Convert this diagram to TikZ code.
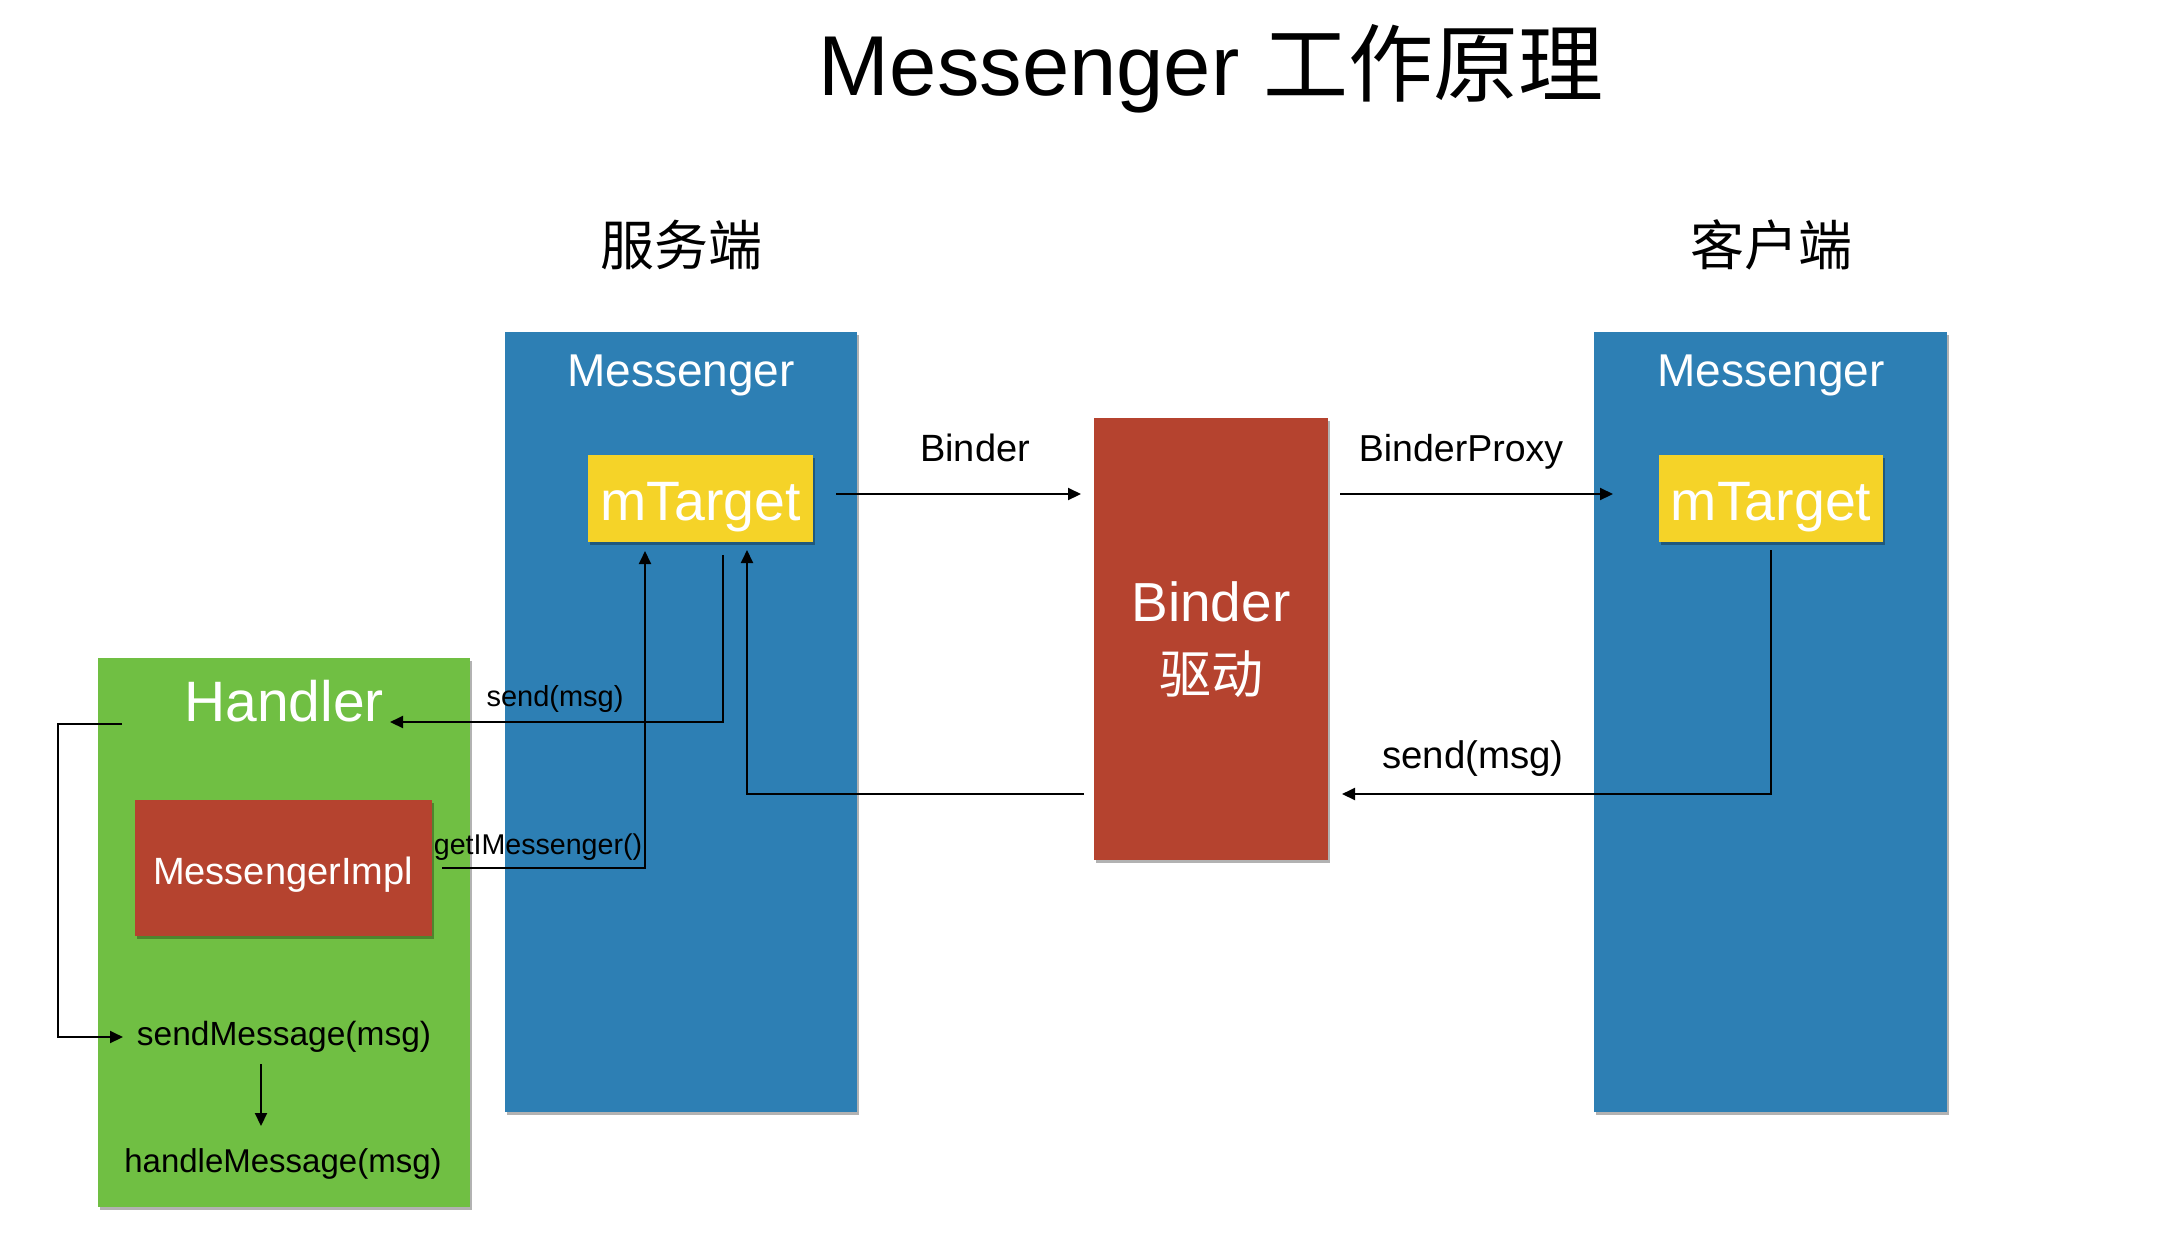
\documentclass[tikz,border=0pt]{standalone}
\usepackage{fontspec}
\setmainfont{Liberation Sans}
\newfontfamily\cjk{Noto Sans CJK SC}
\usetikzlibrary{arrows.meta,shadows,calc}
\definecolor{mblue}{HTML}{2D7FB4}
\definecolor{myellow}{HTML}{F5D328}
\definecolor{mred}{HTML}{B5432F}
\definecolor{mgreen}{HTML}{70BF43}
\newcommand\setfz[1]{\fontsize{#1}{#1}\selectfont}
\begin{document}
\begin{tikzpicture}[x=1pt,y=-1pt,
  box/.style={draw=none, inner sep=0, outer sep=0, anchor=north west,
    drop shadow={shadow xshift=1.5pt,shadow yshift=-3pt,opacity=0.3,fill=black}},
  lbl/.style={inner sep=0, outer sep=0, anchor=base},
  conn/.style={line width=2pt, -{Triangle[length=13pt,width=12pt]}},
  seg/.style={line width=2pt}]
\useasboundingbox (0,0) rectangle (2170,1254);
% boxes
\node[box, fill=mgreen, minimum width=372pt, minimum height=549pt] (green) at (98,658) {};
\node[box, fill=mred, minimum width=297pt, minimum height=136pt] (impl) at (135,800) {};
\node[box, fill=mblue, minimum width=352pt, minimum height=780pt] (sblue) at (505,332) {};
\node[box, fill=mblue, minimum width=353pt, minimum height=780pt] (cblue) at (1594,332) {};
\node[box, fill=myellow, minimum width=225pt, minimum height=87pt] (mtl) at (588,455) {};
\node[box, fill=myellow, minimum width=224pt, minimum height=87pt] (mtr) at (1659,455) {};
\node[box, fill=mred, minimum width=234pt, minimum height=442pt] (binder) at (1094,418) {};
% titles
\node[lbl] (title) at (1211,95) {\setfz{85}Messenger {\cjk 工作原理}};
\node[inner sep=0] (server) at (681,245) {\setfz{54}\cjk 服务端};
\node[inner sep=0] (client) at (1771,245) {\setfz{54}\cjk 客户端};
% box texts
\node[lbl, text=white] (smsg) at (681,386) {\setfz{46}Messenger};
\node[lbl, text=white] (cmsg) at (1771,386) {\setfz{46}Messenger};
\node[lbl, text=white] (mtlt) at (700.5,520) {\setfz{55.5}mTarget};
\node[lbl, text=white] (mtrt) at (1771,520) {\setfz{55.5}mTarget};
\node[lbl, text=white] (bt1) at (1211,621) {\setfz{55}Binder};
\node[inner sep=0, text=white] (bt2) at (1211,674) {\setfz{52}\cjk 驱动};
\node[lbl, text=white] (hd) at (284,721) {\setfz{57}Handler};
\node[lbl, text=white] (implt) at (283,884) {\setfz{38}MessengerImpl};
\node[lbl] (sm) at (284,1045) {\setfz{33.5}sendMessage(msg)};
\node[lbl] (hm) at (283,1172) {\setfz{33}handleMessage(msg)};
% labels
\node[lbl] (lb1) at (975,461) {\setfz{38}Binder};
\node[lbl] (lb2) at (1461,461) {\setfz{37.5}BinderProxy};
\node[lbl] (lb3) at (1473,768) {\setfz{38.4}send(msg)};
\node[lbl] (lb4) at (555,706) {\setfz{29}send(msg)};
\node[lbl] (lb5) at (538,854) {\setfz{28.6}getIMessenger()};
% connector coordinates
\coordinate (a1s) at (836,494);
\coordinate (a1e) at (1081,494);
\coordinate (a2s) at (1340,494);
\coordinate (a2e) at (1613,494);
\coordinate (a3s) at (1771,550);
\coordinate (a3e) at (1342,794);
\coordinate (a4s) at (1084,794);
\coordinate (a4e) at (747,550);
\coordinate (a5s) at (723,555);
\coordinate (a5e) at (390,722);
\coordinate (a6s) at (442,868);
\coordinate (a6e) at (645,551);
\coordinate (a7s) at (122,724);
\coordinate (a7m) at (58,724);
\coordinate (a7e) at (123,1037);
\coordinate (a8s) at (261,1064);
\coordinate (a8e) at (261,1126);
% connectors
\draw[conn] (a1s) -- (a1e);
\draw[conn] (a2s) -- (a2e);
\draw[conn] (a3s) |- (a3e);
\draw[conn] (a4s) -| (a4e);
\draw[conn] (a5s) |- (a5e);
\draw[conn] (a6s) -| (a6e);
\draw[conn] (a7s) -- (a7m) |- (a7e);
\draw[conn] (a8s) -- (a8e);
\end{tikzpicture}
\end{document}
